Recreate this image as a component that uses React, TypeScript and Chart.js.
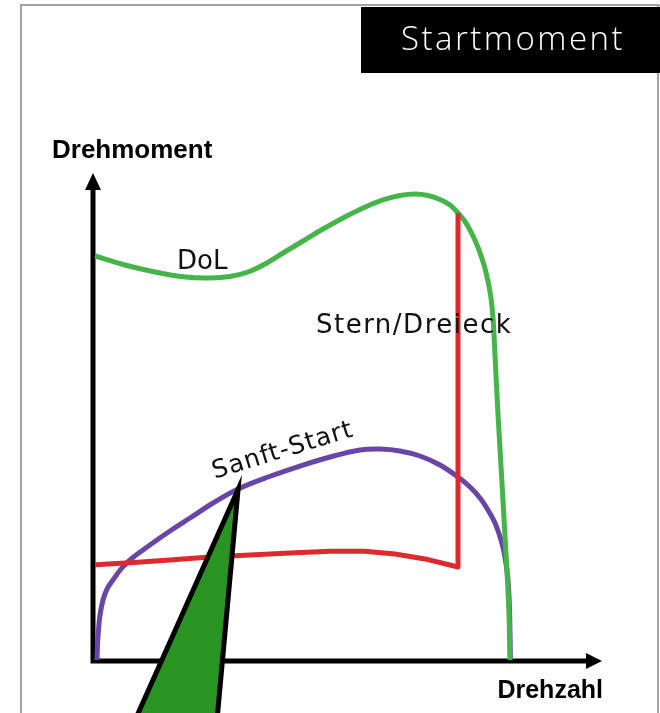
import { useEffect, useRef } from 'react';
import { Chart, registerables } from 'chart.js';

Chart.register(...registerables);

// Speed (Drehzahl, % of axis) and torque (Drehmoment, % of axis)
const dolSpeed = [0.39, 6.29, 12.18, 18.07, 22.99, 26.92, 30.45, 33.79, 37.33, 41.26, 45.19, 49.12, 53.05, 56.97, 60.31, 63.26, 65.82, 68.17, 70.14, 71.71, 73.28, 74.66, 75.83, 76.82, 77.6, 78.19, 78.59, 78.88, 79.17, 79.47, 79.86, 80.26, 80.65, 81.04, 81.43, 81.73, 81.93];
const dolTorque = [83.33, 81.48, 80.04, 79.01, 78.81, 79.12, 80.04, 81.69, 83.95, 86.42, 88.89, 91.15, 93.21, 94.86, 95.78, 96.09, 95.78, 94.96, 93.83, 92.18, 90.12, 87.45, 84.57, 81.48, 78.19, 74.69, 70.58, 65.02, 58.85, 52.67, 45.47, 38.27, 31.07, 23.87, 16.67, 9.47, 0.21];

const sdSpeed = [0.39, 7.27, 15.13, 22.99, 30.84, 38.7, 46.56, 53.44, 59.33, 65.23, 71.71, 71.71];
const sdTorque = [19.8, 20.2, 20.8, 21.4, 21.8, 22.2, 22.6, 22.6, 22.0, 21.0, 19.34, 92.18];

const softSpeed = [0.79, 0.88, 1.08, 1.38, 1.96, 2.75, 3.93, 5.5, 7.27, 9.82, 12.57, 15.72, 19.06, 23.58, 28.49, 34.38, 40.67, 46.56, 52.46, 56.39, 60.31, 64.24, 68.17, 71.71, 74.07, 76.03, 77.6, 78.98, 80.16, 80.94, 81.53, 81.83, 81.93, 82.0];
const softTorque = [0.21, 3.29, 6.38, 9.47, 12.55, 14.81, 16.67, 18.93, 20.78, 22.84, 24.9, 27.16, 29.42, 32.51, 35.39, 37.86, 40.12, 41.98, 43.42, 43.62, 43.21, 42.18, 40.33, 37.86, 35.8, 33.54, 31.07, 28.4, 24.9, 21.4, 16.67, 10.49, 5.35, 0.62];

const seriesNames = ['DoL', 'Stern/Dreieck', 'Sanft-Start'];
const axisTitles = { y: 'Drehmoment', x: 'Drehzahl' };
const chartTitle = 'Startmoment';
// callout pointer: tip on the soft-start curve, base below the speed axis
const calloutTip = { x: 28.5, y: 35.3 };
const calloutBase = [{ x: 6.5, y: -16.3 }, { x: 24.0, y: -16.3 }];

const toPts = (xs: number[], ys: number[]) => xs.map((x, i) => ({ x, y: ys[i] }));

const LABEL_FONT = '"DejaVu Sans", "Open Sans", sans-serif';
const TITLE_FONT = '"Open Sans", "DejaVu Sans", sans-serif';
const BOLD_FONT = '"Liberation Sans", Arial, sans-serif';

const overlay = {
  id: 'overlay',
  beforeDraw(chart: any) {
    const { ctx, width, height } = chart;
    ctx.save();
    ctx.fillStyle = '#ffffff';
    ctx.fillRect(0, 0, width, height);
    // frame
    ctx.strokeStyle = '#a3a3a3';
    ctx.lineWidth = 2;
    ctx.beginPath();
    ctx.moveTo(21, height);
    ctx.lineTo(21, 5);
    ctx.lineTo(width, 5);
    ctx.moveTo(658, 5);
    ctx.lineTo(658, height);
    ctx.stroke();
    // title box
    ctx.fillStyle = '#000000';
    ctx.fillRect(361, 7, width - 361, 66);
    ctx.fillStyle = '#ffffff';
    ctx.font = `300 33px ${TITLE_FONT}`;
    ctx.textAlign = 'center';
    ctx.textBaseline = 'alphabetic';
    (ctx as any).letterSpacing = '2.5px';
    ctx.fillText(chartTitle, 513, 50);
    (ctx as any).letterSpacing = '0px';
    ctx.restore();
  },
  beforeDatasetsDraw(chart: any) {
    const { ctx, chartArea } = chart;
    const { left, right, top, bottom } = chartArea;
    ctx.save();
    ctx.strokeStyle = '#000';
    ctx.fillStyle = '#000';
    ctx.lineWidth = 5;
    ctx.lineCap = 'butt';
    ctx.beginPath();
    ctx.moveTo(left, top + 14);
    ctx.lineTo(left, bottom + 2.5);
    ctx.moveTo(left - 2.5, bottom);
    ctx.lineTo(right - 14, bottom);
    ctx.stroke();
    // arrow heads
    ctx.beginPath();
    ctx.moveTo(left, top - 2);
    ctx.lineTo(left - 8, top + 15);
    ctx.lineTo(left + 8, top + 15);
    ctx.closePath();
    ctx.fill();
    ctx.beginPath();
    ctx.moveTo(right, bottom);
    ctx.lineTo(right - 16, bottom - 8);
    ctx.lineTo(right - 16, bottom + 8);
    ctx.closePath();
    ctx.fill();
    // axis titles
    ctx.font = `bold 26px ${BOLD_FONT}`;
    ctx.textAlign = 'left';
    ctx.textBaseline = 'alphabetic';
    ctx.fillText(axisTitles.y, 52, 158);
    ctx.font = `bold 25px ${BOLD_FONT}`;
    ctx.textAlign = 'right';
    ctx.fillText(axisTitles.x, right + 1, 698);
    ctx.restore();
  },
  afterDatasetsDraw(chart: any) {
    const { ctx } = chart;
    const xs = chart.scales.x;
    const ys = chart.scales.y;
    const px = (v: number) => xs.getPixelForValue(v);
    const py = (v: number) => ys.getPixelForValue(v);
    ctx.save();
    ctx.fillStyle = '#111';
    ctx.textBaseline = 'alphabetic';
    ctx.textAlign = 'left';
    ctx.font = `26px ${LABEL_FONT}`;
    ctx.fillText(seriesNames[0], px(16.5), py(80.6));
    (ctx as any).letterSpacing = '1.5px';
    ctx.font = `26px ${LABEL_FONT}`;
    ctx.fillText(seriesNames[1], px(43.8), py(67.5));
    (ctx as any).letterSpacing = '1px';
    ctx.translate(px(37.3), py(43.2));
    ctx.rotate(-17 * Math.PI / 180);
    ctx.textAlign = 'center';
    ctx.textBaseline = 'middle';
    ctx.font = `25px ${LABEL_FONT}`;
    ctx.fillText(seriesNames[2], 0, 0);
    (ctx as any).letterSpacing = '0px';
    ctx.restore();

    // callout pointer
    ctx.save();
    ctx.beginPath();
    ctx.moveTo(px(calloutTip.x), py(calloutTip.y));
    ctx.lineTo(px(calloutBase[0].x), py(calloutBase[0].y));
    ctx.lineTo(px(calloutBase[1].x), py(calloutBase[1].y));
    ctx.closePath();
    ctx.fillStyle = '#2a9422';
    ctx.fill();
    ctx.strokeStyle = '#000';
    ctx.lineWidth = 5;
    ctx.lineJoin = 'miter';
    ctx.stroke();
    ctx.restore();
  },
};

export default function App() {
  const ref = useRef<HTMLCanvasElement | null>(null);
  useEffect(() => {
    if (!ref.current) return;
    const chart = new Chart(ref.current, {
      type: 'scatter',
      data: {
        datasets: [
          {
            label: seriesNames[1],
            data: toPts(sdSpeed, sdTorque),
            showLine: true,
            borderColor: '#de2a2e',
            borderWidth: 5,
            pointRadius: 0,
            tension: 0,
            borderJoinStyle: 'round',
            clip: false,
          },
          {
            label: seriesNames[0],
            data: toPts(dolSpeed, dolTorque),
            showLine: true,
            borderColor: '#45b54a',
            borderWidth: 5,
            pointRadius: 0,
            tension: 0.35,
            borderJoinStyle: 'round',
            clip: false,
          },
          {
            label: seriesNames[2],
            data: toPts(softSpeed, softTorque),
            showLine: true,
            borderColor: '#6a45a9',
            borderWidth: 5,
            pointRadius: 0,
            tension: 0.35,
            borderJoinStyle: 'round',
            clip: false,
          },
        ],
      },
      options: {
        animation: false,
        responsive: false,
        maintainAspectRatio: false,
        devicePixelRatio: 1,
        layout: { padding: { left: 93, right: 58, top: 175, bottom: 52 } },
        scales: {
          x: { type: 'linear', min: 0, max: 100, display: false },
          y: { type: 'linear', min: 0, max: 100, display: false },
        },
        plugins: {
          legend: { display: false },
          tooltip: { enabled: false },
          title: { display: false },
        },
      },
      plugins: [overlay],
    });
    return () => chart.destroy();
  }, []);
  return (
    <div style={{ position: 'absolute', left: 0, top: 0, width: 660, height: 713 }}>
      <canvas ref={ref} width={660} height={713} style={{ display: 'block', width: 660, height: 713 }} />
    </div>
  );
}
